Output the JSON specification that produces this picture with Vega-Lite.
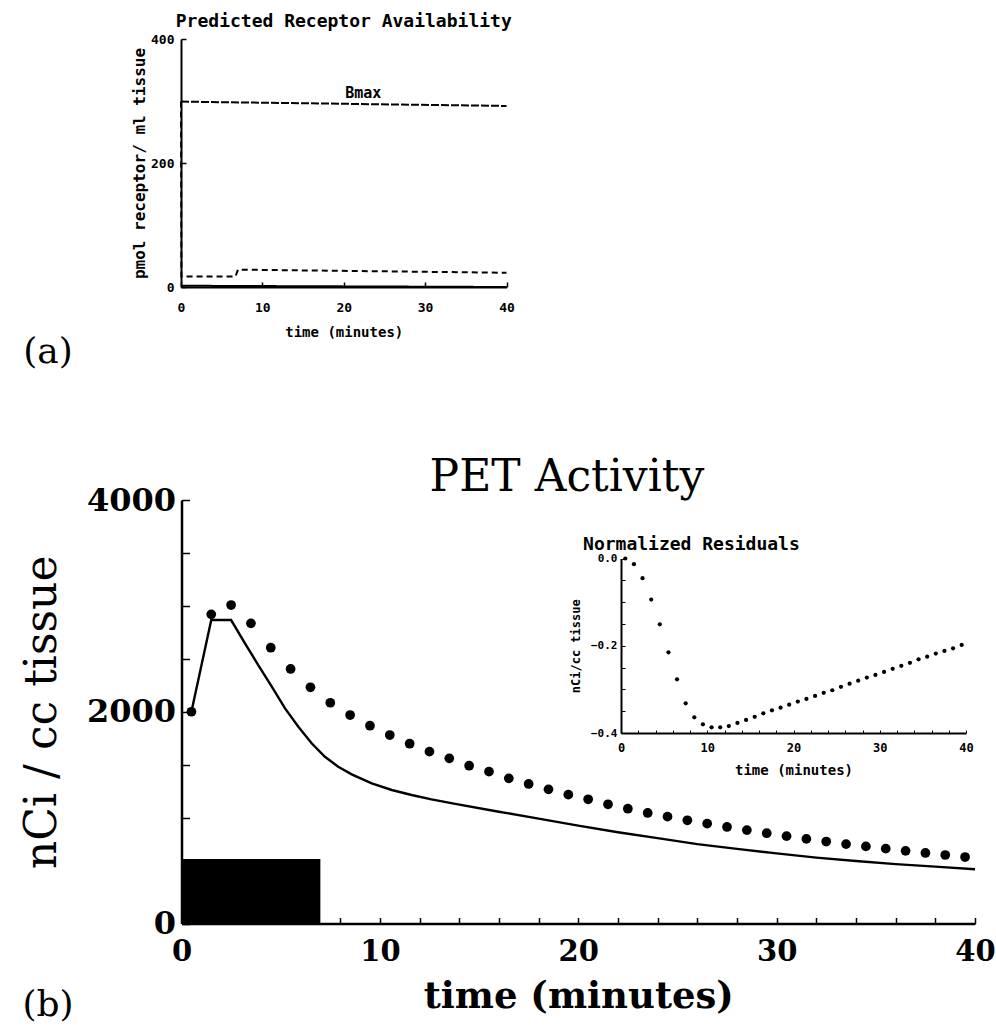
{
  "$schema": "https://vega.github.io/schema/vega-lite/v6.json",
  "width": 996,
  "height": 1030,
  "autosize": "none",
  "padding": 0,
  "background": "white",
  "config": {
    "view": {"stroke": null},
    "axis": {
      "grid": false,
      "domainColor": "#000",
      "domainWidth": 2,
      "tickColor": "#000",
      "tickWidth": 1.5,
      "labelColor": "#000",
      "titleColor": "#000",
      "labelFlush": false,
      "labelOverlap": false,
      "labelBound": false
    }
  },
  "datasets": {
    "receptor": [
      {"series": "Bmax", "ta": 0, "va": 299},
      {"series": "Bmax", "ta": 40, "va": 292},
      {"series": "available", "ta": 0, "va": 299},
      {"series": "available", "ta": 0.05, "va": 17},
      {"series": "available", "ta": 6.7, "va": 17},
      {"series": "available", "ta": 7.0, "va": 28},
      {"series": "available", "ta": 40, "va": 23},
      {"series": "bound", "ta": 0, "va": 2},
      {"series": "bound", "ta": 40, "va": 0}
    ],
    "pet_measured": [
      {"t": 0.5, "v": 2000}, {"t": 1.5, "v": 2920}, {"t": 2.5, "v": 3008}, {"t": 3.5, "v": 2835},
      {"t": 4.5, "v": 2605}, {"t": 5.5, "v": 2404}, {"t": 6.5, "v": 2231}, {"t": 7.5, "v": 2085},
      {"t": 8.5, "v": 1969}, {"t": 9.5, "v": 1868}, {"t": 10.5, "v": 1780}, {"t": 11.5, "v": 1698},
      {"t": 12.5, "v": 1623}, {"t": 13.5, "v": 1560}, {"t": 14.5, "v": 1490}, {"t": 15.5, "v": 1434},
      {"t": 16.5, "v": 1371}, {"t": 17.5, "v": 1318}, {"t": 18.5, "v": 1267}, {"t": 19.5, "v": 1217},
      {"t": 20.5, "v": 1173}, {"t": 21.5, "v": 1126}, {"t": 22.5, "v": 1084}, {"t": 23.5, "v": 1044},
      {"t": 24.5, "v": 1009}, {"t": 25.5, "v": 975}, {"t": 26.5, "v": 943}, {"t": 27.5, "v": 912},
      {"t": 28.5, "v": 882}, {"t": 29.5, "v": 853}, {"t": 30.5, "v": 825}, {"t": 31.5, "v": 799},
      {"t": 32.5, "v": 774}, {"t": 33.5, "v": 750}, {"t": 34.5, "v": 728}, {"t": 35.5, "v": 707},
      {"t": 36.5, "v": 686}, {"t": 37.5, "v": 666}, {"t": 38.5, "v": 647}, {"t": 39.5, "v": 628}
    ],
    "pet_model": [
      {"t": 0.5, "v": 2000}, {"t": 1.5, "v": 2866}, {"t": 2.5, "v": 2866}, {"t": 3.2, "v": 2646},
      {"t": 3.87, "v": 2441}, {"t": 4.55, "v": 2237}, {"t": 5.22, "v": 2032}, {"t": 5.89, "v": 1859},
      {"t": 6.56, "v": 1702}, {"t": 7.23, "v": 1575}, {"t": 7.9, "v": 1481}, {"t": 8.58, "v": 1409},
      {"t": 9.59, "v": 1324}, {"t": 10.6, "v": 1261}, {"t": 11.6, "v": 1214}, {"t": 12.6, "v": 1173},
      {"t": 13.8, "v": 1130}, {"t": 16, "v": 1056}, {"t": 18, "v": 990}, {"t": 20, "v": 925},
      {"t": 22, "v": 862}, {"t": 24, "v": 806}, {"t": 26, "v": 750}, {"t": 28, "v": 705},
      {"t": 30, "v": 662}, {"t": 32, "v": 622}, {"t": 34, "v": 590}, {"t": 36, "v": 561},
      {"t": 38, "v": 537}, {"t": 40, "v": 513}
    ],
    "infusion": [
      {"t0": 0, "t1": 7, "v0": 0, "v1": 610}
    ],
    "residuals": [
      {"tr": 0.5, "r": 0.0}, {"tr": 1.5, "r": -0.013}, {"tr": 2.5, "r": -0.045}, {"tr": 3.5, "r": -0.094},
      {"tr": 4.5, "r": -0.151}, {"tr": 5.5, "r": -0.215}, {"tr": 6.5, "r": -0.277}, {"tr": 7.5, "r": -0.332},
      {"tr": 8.5, "r": -0.364}, {"tr": 9.5, "r": -0.38}, {"tr": 10.5, "r": -0.387}, {"tr": 11.5, "r": -0.387},
      {"tr": 12.5, "r": -0.384}, {"tr": 13.5, "r": -0.377}, {"tr": 14.5, "r": -0.37}, {"tr": 15.5, "r": -0.363},
      {"tr": 16.5, "r": -0.355}, {"tr": 17.5, "r": -0.348}, {"tr": 18.5, "r": -0.342}, {"tr": 19.5, "r": -0.335},
      {"tr": 20.5, "r": -0.328}, {"tr": 21.5, "r": -0.322}, {"tr": 22.5, "r": -0.315}, {"tr": 23.5, "r": -0.308},
      {"tr": 24.5, "r": -0.302}, {"tr": 25.5, "r": -0.294}, {"tr": 26.5, "r": -0.287}, {"tr": 27.5, "r": -0.28},
      {"tr": 28.5, "r": -0.273}, {"tr": 29.5, "r": -0.267}, {"tr": 30.5, "r": -0.26}, {"tr": 31.5, "r": -0.253},
      {"tr": 32.5, "r": -0.246}, {"tr": 33.5, "r": -0.239}, {"tr": 34.5, "r": -0.231}, {"tr": 35.5, "r": -0.225},
      {"tr": 36.5, "r": -0.218}, {"tr": 37.5, "r": -0.212}, {"tr": 38.5, "r": -0.206}, {"tr": 39.5, "r": -0.198}
    ]
  },
  "layer": [
    {
      "layer": [
        {
          "data": {"name": "receptor"},
          "mark": {"type": "line", "color": "#000", "strokeWidth": 2},
          "encoding": {
            "x": {
              "field": "ta", "type": "quantitative",
              "scale": {"domain": [0, 40], "range": [181, 506.5], "nice": false, "zero": false},
              "axis": {
                "orient": "bottom", "offset": -743, "values": [0, 10, 20, 30, 40],
                "tickSize": -5, "labelPadding": 19,
                "labelFont": "DejaVu Sans Mono", "labelFontSize": 13, "labelFontWeight": "bold",
                "title": "time (minutes)", "titleFont": "DejaVu Sans Mono", "titleFontSize": 14,
                "titleFontWeight": "bold", "titlePadding": 11
              }
            },
            "y": {
              "field": "va", "type": "quantitative",
              "scale": {"domain": [0, 400], "range": [287, 39], "nice": false, "zero": false},
              "axis": {
                "orient": "left", "offset": -181, "values": [0, 200, 400],
                "tickSize": -5, "labelPadding": 12,
                "labelFont": "DejaVu Sans Mono", "labelFontSize": 13, "labelFontWeight": "bold",
                "title": "pmol receptor/ ml tissue", "titleFont": "DejaVu Sans Mono", "titleFontSize": 16,
                "titleFontWeight": "bold", "titlePadding": 3
              }
            },
            "detail": {"field": "series", "type": "nominal"},
            "strokeDash": {
              "field": "series", "type": "nominal",
              "scale": {"domain": ["Bmax", "available", "bound"], "range": [[8, 2], [6, 4], [1, 0]]},
              "legend": null
            }
          }
        },
        {
          "data": {"values": [
            {"ta": 20, "va": 427, "label": "Predicted Receptor Availability"},
            {"ta": 22.4, "va": 313, "label": "Bmax"}
          ]},
          "mark": {"type": "text", "font": "DejaVu Sans Mono", "fontWeight": "bold", "color": "#000", "baseline": "middle", "align": "center"},
          "encoding": {
            "x": {"field": "ta", "type": "quantitative", "scale": {"domain": [0, 40], "range": [181, 506.5], "nice": false, "zero": false}},
            "y": {"field": "va", "type": "quantitative", "scale": {"domain": [0, 400], "range": [287, 39], "nice": false, "zero": false}},
            "text": {"field": "label", "type": "nominal"},
            "size": {"field": "label", "type": "nominal", "scale": {"domain": ["Predicted Receptor Availability", "Bmax"], "range": [18, 15]}, "legend": null}
          }
        }
      ]
    },
    {
      "layer": [
        {
          "data": {"name": "infusion"},
          "mark": {"type": "rect", "color": "#000"},
          "encoding": {
            "x": {
              "field": "t0", "type": "quantitative",
              "scale": {"domain": [0, 40], "range": [181.5, 975], "nice": false, "zero": false},
              "axis": {
                "orient": "bottom", "offset": -106.5,
                "values": [0, 1, 2, 3, 4, 5, 6, 7, 8, 9, 10, 11, 12, 13, 14, 15, 16, 17, 18, 19, 20, 21, 22, 23, 24, 25, 26, 27, 28, 29, 30, 31, 32, 33, 34, 35, 36, 37, 38, 39, 40],
                "labelExpr": "datum.value % 10 == 0 ? datum.label : ''",
                "tickSize": -6, "labelPadding": 20, "domainWidth": 2.5,
                "labelFont": "DejaVu Serif", "labelFontSize": 29, "labelFontWeight": "bold",
                "title": "time (minutes)", "titleFont": "DejaVu Serif", "titleFontSize": 37,
                "titleFontWeight": "bold", "titlePadding": 12
              }
            },
            "x2": {"field": "t1"},
            "y": {
              "field": "v0", "type": "quantitative",
              "scale": {"domain": [0, 4000], "range": [923.5, 500], "nice": false, "zero": false},
              "axis": {
                "orient": "left", "offset": -181.5,
                "values": [0, 500, 1000, 1500, 2000, 2500, 3000, 3500, 4000],
                "format": "d",
                "labelExpr": "datum.value % 2000 == 0 ? datum.label : ''",
                "tickSize": -8, "labelPadding": 14, "domainWidth": 2.5,
                "labelFont": "DejaVu Serif", "labelFontSize": 32, "labelFontWeight": "bold",
                "title": "nCi / cc tissue", "titleFont": "DejaVu Serif", "titleFontSize": 44,
                "titleFontWeight": "normal", "titlePadding": 22
              }
            },
            "y2": {"field": "v1"}
          }
        },
        {
          "data": {"name": "pet_model"},
          "mark": {"type": "line", "color": "#000", "strokeWidth": 2.4},
          "encoding": {
            "x": {"field": "t", "type": "quantitative", "scale": {"domain": [0, 40], "range": [181.5, 975], "nice": false, "zero": false}},
            "y": {"field": "v", "type": "quantitative", "scale": {"domain": [0, 4000], "range": [923.5, 500], "nice": false, "zero": false}}
          }
        },
        {
          "data": {"name": "pet_measured"},
          "mark": {"type": "circle", "color": "#000", "opacity": 1, "size": 95},
          "encoding": {
            "x": {"field": "t", "type": "quantitative", "scale": {"domain": [0, 40], "range": [181.5, 975], "nice": false, "zero": false}},
            "y": {"field": "v", "type": "quantitative", "scale": {"domain": [0, 4000], "range": [923.5, 500], "nice": false, "zero": false}}
          }
        },
        {
          "data": {"values": [{"t": 19.43, "v": 4208, "label": "PET Activity"}]},
          "mark": {"type": "text", "font": "DejaVu Serif", "fontSize": 44, "color": "#000", "align": "center", "baseline": "middle"},
          "encoding": {
            "x": {"field": "t", "type": "quantitative", "scale": {"domain": [0, 40], "range": [181.5, 975], "nice": false, "zero": false}},
            "y": {"field": "v", "type": "quantitative", "scale": {"domain": [0, 4000], "range": [923.5, 500], "nice": false, "zero": false}},
            "text": {"field": "label", "type": "nominal"}
          }
        },
        {
          "data": {"values": [
            {"t": -6.73, "v": 5398, "label": "(a)"},
            {"t": -6.73, "v": -770, "label": "(b)"}
          ]},
          "mark": {"type": "text", "font": "DejaVu Serif", "fontSize": 36, "color": "#000", "align": "center", "baseline": "middle"},
          "encoding": {
            "x": {"field": "t", "type": "quantitative", "scale": {"domain": [0, 40], "range": [181.5, 975], "nice": false, "zero": false}},
            "y": {"field": "v", "type": "quantitative", "scale": {"domain": [0, 4000], "range": [923.5, 500], "nice": false, "zero": false}},
            "text": {"field": "label", "type": "nominal"}
          }
        }
      ]
    },
    {
      "layer": [
        {
          "data": {"name": "residuals"},
          "mark": {"type": "circle", "color": "#000", "opacity": 1, "size": 18},
          "encoding": {
            "x": {
              "field": "tr", "type": "quantitative",
              "scale": {"domain": [0, 40], "range": [621, 966], "nice": false, "zero": false},
              "axis": {
                "orient": "bottom", "offset": -297,
                "values": [0, 1, 2, 3, 4, 5, 6, 7, 8, 9, 10, 11, 12, 13, 14, 15, 16, 17, 18, 19, 20, 21, 22, 23, 24, 25, 26, 27, 28, 29, 30, 31, 32, 33, 34, 35, 36, 37, 38, 39, 40],
                "labelExpr": "datum.value % 10 == 0 ? datum.label : ''",
                "tickSize": -3, "tickWidth": 1, "labelPadding": 12,
                "labelFont": "DejaVu Sans Mono", "labelFontSize": 12, "labelFontWeight": "bold",
                "title": "time (minutes)", "titleFont": "DejaVu Sans Mono", "titleFontSize": 14,
                "titleFontWeight": "bold", "titlePadding": 10
              }
            },
            "y": {
              "field": "r", "type": "quantitative",
              "scale": {"domain": [-0.4, 0], "range": [733, 558.5], "nice": false, "zero": false},
              "axis": {
                "orient": "left", "offset": -621,
                "values": [-0.4, -0.35, -0.3, -0.25, -0.2, -0.15, -0.1, -0.05, 0],
                "format": ".1f",
                "labelExpr": "round(datum.value * 20) % 4 == 0 ? datum.label : ''",
                "tickSize": -4, "tickWidth": 1, "labelPadding": 8,
                "labelFont": "DejaVu Sans Mono", "labelFontSize": 11, "labelFontWeight": "bold",
                "title": "nCi/cc tissue", "titleFont": "DejaVu Sans Mono", "titleFontSize": 12,
                "titleFontWeight": "bold", "titlePadding": 8
              }
            }
          }
        },
        {
          "data": {"values": [{"tr": -4.4, "r": 0.031, "label": "Normalized Residuals"}]},
          "mark": {"type": "text", "font": "DejaVu Sans Mono", "fontWeight": "bold", "fontSize": 18, "color": "#000", "align": "left", "baseline": "middle"},
          "encoding": {
            "x": {"field": "tr", "type": "quantitative", "scale": {"domain": [0, 40], "range": [621, 966], "nice": false, "zero": false}},
            "y": {"field": "r", "type": "quantitative", "scale": {"domain": [-0.4, 0], "range": [733, 558.5], "nice": false, "zero": false}},
            "text": {"field": "label", "type": "nominal"}
          }
        }
      ]
    }
  ],
  "resolve": {
    "scale": {"x": "independent", "y": "independent"},
    "axis": {"x": "independent", "y": "independent"}
  }
}
